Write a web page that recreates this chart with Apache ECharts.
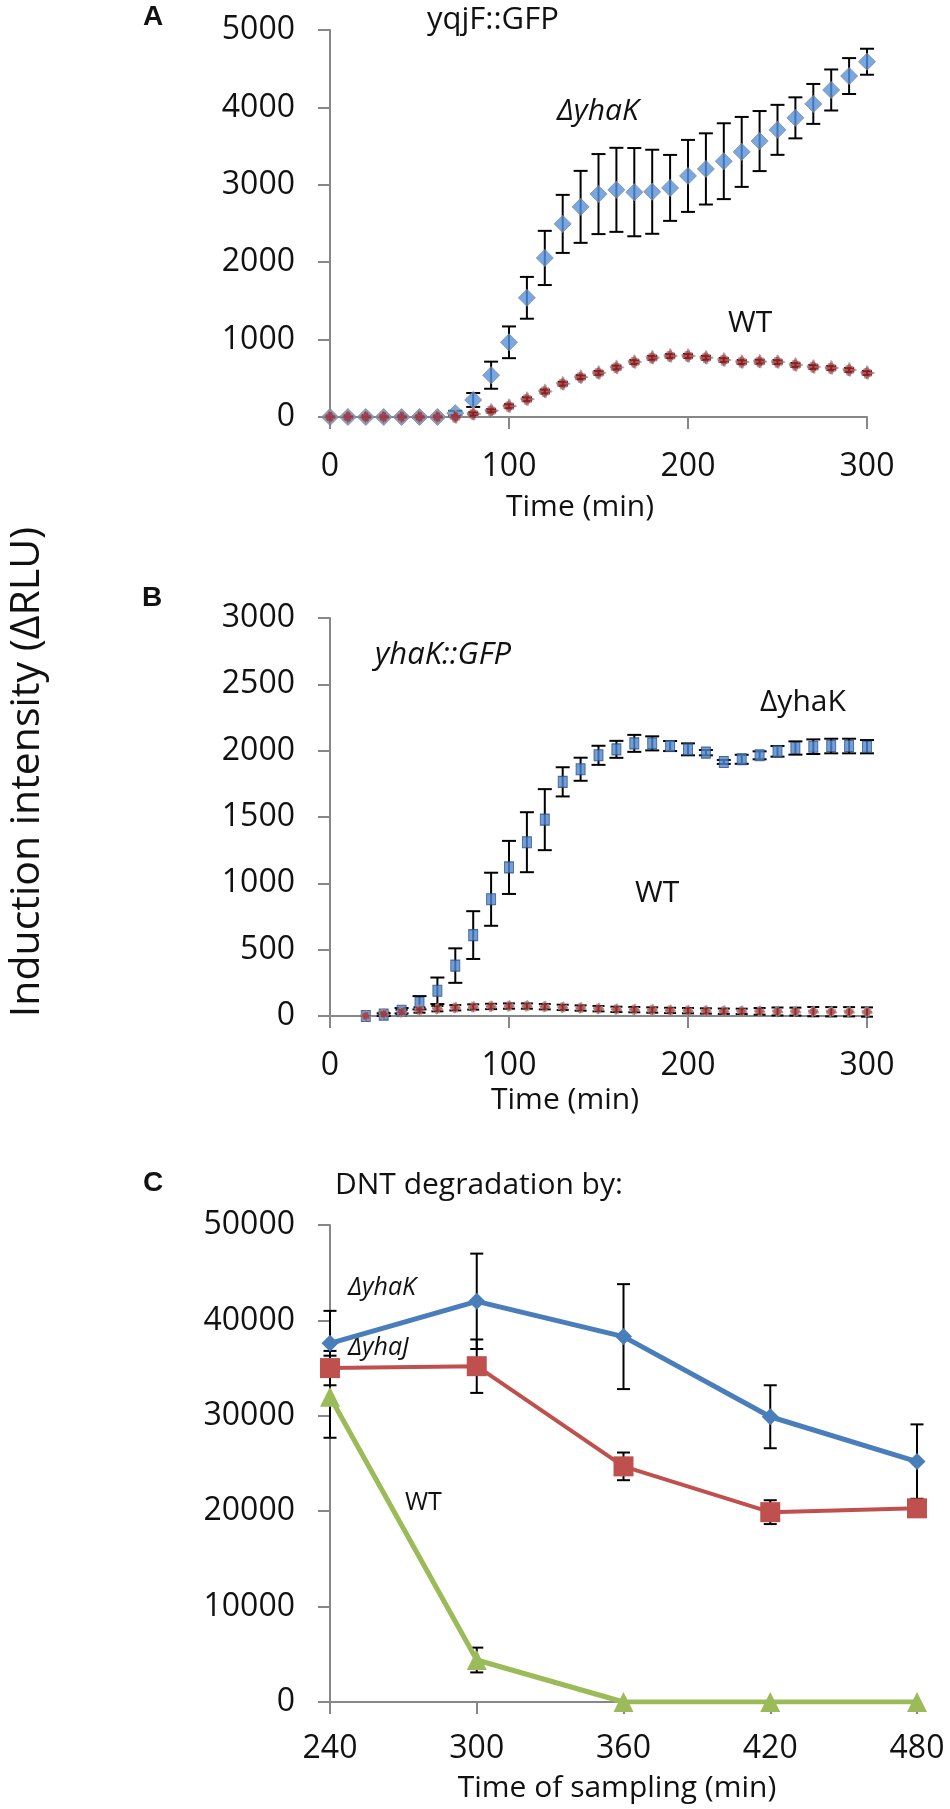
<!DOCTYPE html>
<html>
<head>
<meta charset="utf-8">
<script src="https://cdn.jsdelivr.net/npm/echarts/dist/echarts.min.js"></script>
<style>
html,body{margin:0;padding:0;background:#fff;}
#chart{width:950px;height:1809px;}
</style>
</head>
<body>
<div id="chart"></div>
<script>
// panel A - yqjF::GFP
var timeA = [0,10,20,30,40,50,60,70,80,90,100,110,120,130,140,150,160,170,180,190,200,210,220,230,240,250,260,270,280,290,300];
var yhaKA = [0,0,0,0,0,0,0,50,220,540,965,1540,2055,2495,2715,2880,2935,2905,2910,2960,3115,3205,3305,3425,3565,3710,3865,4045,4225,4405,4590];
var yhaKA_sd = [0,0,0,0,0,0,0,30,90,175,205,270,350,375,465,517,543,570,543,426,465,460,490,452,388,323,265,258,265,232,168];
var wtA = [0,0,0,0,0,0,0,0,40,80,140,230,330,430,515,570,640,710,765,788,788,765,736,710,715,710,672,646,633,607,568];
var wtA_sd = [0,0,0,0,0,0,0,0,20,20,25,25,25,25,25,25,25,25,25,25,25,25,25,25,25,25,25,25,25,25,25];

// panel B - yhaK::GFP
var timeB = [20,30,40,50,60,70,80,90,100,110,120,130,140,150,160,170,180,190,200,210,220,230,240,250,260,270,280,290,300];
var yhaKB = [0,10,40,100,190,380,610,880,1120,1310,1480,1765,1860,1965,2010,2055,2055,2035,2010,1985,1915,1935,1965,1995,2020,2030,2035,2035,2030];
var yhaKB_sd = [0,10,20,50,100,130,180,200,200,226,230,110,87,72,64,64,53,38,45,20,15,34,30,40,50,55,55,55,50];
var wtB = [0,15,30,45,55,62,68,72,75,75,70,65,60,55,50,48,45,42,40,38,36,35,35,34,33,33,32,32,30];
var wtB_sd = [0,10,15,20,20,20,20,20,20,20,20,20,20,20,20,20,20,20,20,20,20,20,25,30,30,35,35,35,35];

// panel C - DNT degradation
var timeC = [240,300,360,420,480];
var yhaKC = [37600,42000,38300,29900,25200];
var yhaKC_sd = [3400,5000,5500,3300,3900];
var yhaJC = [35000,35200,24700,19900,20300];
var yhaJC_sd = [1800,2800,1450,1250,600];
var wtC = [32000,4400,0,0,0];
var wtC_sd = [4300,1300,0,0,0];

var FONT = '"Open Sans", "Noto Sans", sans-serif';
var AXIS_GREY = '#878787';

function pairs(xs, ys){
	return xs.map(function(x,i){ return [x, ys[i]]; });
}

function bars(xs, ys, sd){
	var out = [];
	for(var i=0;i<xs.length;i++){
		if(sd[i] > 0) out.push([xs[i], ys[i]-sd[i], ys[i]+sd[i]]);
	}
	return out;
}

function errorSeries(g, data, cap){
	return {
		type:'custom', xAxisIndex:g, yAxisIndex:g, z:1, silent:true,
		encode:{x:0, y:[1,2]},
		renderItem:function(params, api){
			var lo = api.coord([api.value(0), api.value(1)]);
			var hi = api.coord([api.value(0), api.value(2)]);
			var h = cap/2;
			var st = {stroke:'#000', lineWidth:2};
			return {type:'group', children:[
				{type:'line', shape:{x1:lo[0],y1:lo[1],x2:hi[0],y2:hi[1]}, style:st},
				{type:'line', shape:{x1:lo[0]-h,y1:lo[1],x2:lo[0]+h,y2:lo[1]}, style:st},
				{type:'line', shape:{x1:hi[0]-h,y1:hi[1],x2:hi[0]+h,y2:hi[1]}, style:st}
			]};
		},
		data:data
	};
}

function axis(g, min, max, interval, margin){
	return {
		gridIndex:g, type:'value', min:min, max:max, interval:interval,
		axisLine:{show:true, onZero:false, lineStyle:{color:AXIS_GREY, width:2}},
		axisTick:{show:true, inside:false, length:12, lineStyle:{color:AXIS_GREY, width:2}},
		axisLabel:{fontSize:32, color:'#111', fontFamily:FONT, margin:margin,
			formatter:function(v){ return String(v); }},
		splitLine:{show:false}
	};
}

function txt(x, y, text, font, align, rot){
	return {
		type:'text', x:x, y:y, rotation:rot || 0, silent:true,
		style:{text:text, font:font, fill:'#111', align:align || 'left', verticalAlign:'middle'}
	};
}

var chart = echarts.init(document.getElementById('chart'));

chart.setOption({
	backgroundColor:'#fff',
	animation:false,
	grid:[
		{left:330, top:30, width:537, height:387},
		{left:330, top:618, width:537, height:398},
		{left:330, top:1225, width:587, height:477}
	],
	xAxis:[
		axis(0, 0, 300, 100, 34),
		axis(1, 0, 300, 100, 34),
		axis(2, 240, 480, 60, 31)
	],
	yAxis:[
		axis(0, 0, 5000, 1000, 35),
		axis(1, 0, 3000, 500, 35),
		axis(2, 0, 50000, 10000, 35)
	],
	series:[
		errorSeries(0, bars(timeA, yhaKA, yhaKA_sd), 14),
		errorSeries(0, bars(timeA, wtA, wtA_sd), 10),
		{
			name:'ΔyhaK', type:'scatter', xAxisIndex:0, yAxisIndex:0, z:3,
			symbol:'diamond', symbolSize:17,
			itemStyle:{color:'#5592dc', borderColor:'#8a8a8a', borderWidth:1},
			data:pairs(timeA, yhaKA)
		},
		{
			name:'WT', type:'scatter', xAxisIndex:0, yAxisIndex:0, z:4,
			symbol:'diamond', symbolSize:13,
			itemStyle:{color:'#a8282c', borderColor:'#9a9a9a', borderWidth:2, borderType:'dotted'},
			data:pairs(timeA, wtA)
		},

		errorSeries(1, bars(timeB, yhaKB, yhaKB_sd), 14),
		errorSeries(1, bars(timeB, wtB, wtB_sd), 12),
		{
			name:'ΔyhaK', type:'scatter', xAxisIndex:1, yAxisIndex:1, z:3,
			symbol:'rect', symbolSize:[9,11],
			itemStyle:{color:'#4f86cf', borderColor:'#2a4f80', borderWidth:1},
			data:pairs(timeB, yhaKB)
		},
		{
			name:'WT', type:'scatter', xAxisIndex:1, yAxisIndex:1, z:4,
			symbol:'diamond', symbolSize:11,
			itemStyle:{color:'#b03434', borderColor:'#9a9a9a', borderWidth:2, borderType:'dotted'},
			data:pairs(timeB, wtB)
		},

		errorSeries(2, bars(timeC, yhaKC, yhaKC_sd), 13),
		errorSeries(2, bars(timeC, yhaJC, yhaJC_sd), 13),
		errorSeries(2, bars(timeC, wtC, wtC_sd), 13),
		{
			name:'ΔyhaK', type:'line', xAxisIndex:2, yAxisIndex:2, z:3,
			symbol:'diamond', symbolSize:17, showAllSymbol:true,
			lineStyle:{color:'#4a7ebb', width:5},
			itemStyle:{color:'#4a7ebb'},
			data:pairs(timeC, yhaKC)
		},
		{
			name:'ΔyhaJ', type:'line', xAxisIndex:2, yAxisIndex:2, z:3,
			symbol:'rect', symbolSize:20, showAllSymbol:true,
			lineStyle:{color:'#c0504d', width:4},
			itemStyle:{color:'#c0504d'},
			data:pairs(timeC, yhaJC)
		},
		{
			name:'WT', type:'line', xAxisIndex:2, yAxisIndex:2, z:3,
			symbol:'triangle', symbolSize:20, showAllSymbol:true,
			lineStyle:{color:'#9bbb59', width:5},
			itemStyle:{color:'#9bbb59'},
			data:pairs(timeC, wtC)
		}
	],
	graphic:[
		txt(153, 17, 'A', 'bold 28px "Liberation Sans", Arial, sans-serif', 'center'),
		txt(427, 20, 'yqjF::GFP', '31px ' + FONT),
		txt(557, 111, 'ΔyhaK', 'italic 30px ' + FONT),
		txt(728, 323, 'WT', '30px ' + FONT),
		txt(580, 507, 'Time (min)', '30px ' + FONT, 'center'),

		txt(152, 598, 'B', 'bold 28px "Liberation Sans", Arial, sans-serif', 'center'),
		txt(375, 655, 'yhaK::GFP', 'italic 31px ' + FONT),
		txt(760, 702, 'ΔyhaK', '30px ' + FONT),
		txt(635, 893, 'WT', '30px ' + FONT),
		txt(565, 1100, 'Time (min)', '30px ' + FONT, 'center'),

		txt(153, 1183, 'C', 'bold 28px "Liberation Sans", Arial, sans-serif', 'center'),
		txt(335, 1185, 'DNT degradation by:', '30px ' + FONT),
		txt(348, 1288, 'ΔyhaK', 'italic 25px ' + FONT),
		txt(348, 1348, 'ΔyhaJ', 'italic 25px ' + FONT),
		txt(405, 1503, 'WT', '25px ' + FONT),
		txt(617, 1788, 'Time of sampling (min)', '30px ' + FONT, 'center'),

		txt(27, 772, 'Induction intensity (ΔRLU)', '41px ' + FONT, 'center', Math.PI/2)
	]
});
</script>
</body>
</html>
